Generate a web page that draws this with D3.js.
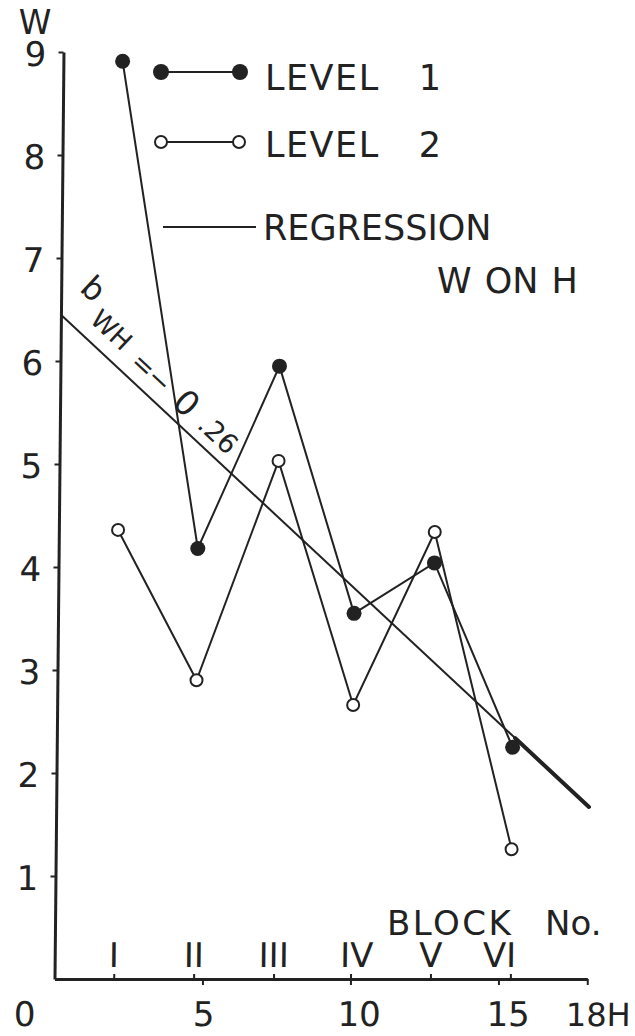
<!DOCTYPE html>
<html>
<head>
<meta charset="utf-8">
<script src="https://cdn.jsdelivr.net/npm/d3@7"></script>
<style>
  html, body { margin: 0; padding: 0; background: #fff; }
  svg { display: block; }
  text { font-family: "DejaVu Sans", sans-serif; fill: #222; }
</style>
</head>
<body>
<script>
// ---- data ----
const blockLabels = ["I", "II", "III", "IV", "V", "VI"];
const blockH = [2.0, 4.7, 7.4, 10.0, 12.7, 15.4];
const level1W = [8.91, 4.18, 5.95, 3.55, 4.04, 2.25];
const level2W = [4.36, 2.90, 5.03, 2.66, 4.34, 1.26];
const regressionH = [0, 18];
const regressionW = [6.45, 1.67];
const yTickValues = [1, 2, 3, 4, 5, 6, 7, 8, 9];
const xTickValues = [5, 10, 15, 18];
const xTickLabels = ["0", "5", "10", "15", "18H"];
const xTickLabelAt = [0, 5, 10, 15, 18];
const slopeLabel = ["b", "WH", "=", "\u2212", "0", ".26"];

// ---- layout ----
const width = 635, height = 1036;
const ink = "#222";
const svg = d3.select("body").append("svg").attr("width", width).attr("height", height);
svg.append("rect").attr("width", width).attr("height", height).attr("fill", "#fff");

const x = d3.scaleLinear().domain([0, 18]).range([0, 18 * 29.6]);
const y = d3.scaleLinear().domain([0, 9]).range([0, -927]);
const ox = 54.5, oy = 979;

const plot = svg.append("g").attr("transform", `translate(${ox},${oy}) skewX(-0.556)`);

// y axis
const yAxis = plot.append("g").call(d3.axisLeft(y).tickValues(yTickValues).tickSize(5).tickSizeOuter(0).tickFormat(""));
yAxis.select(".domain").attr("stroke", ink).attr("stroke-width", 3);
yAxis.selectAll(".tick line").attr("stroke", ink).attr("stroke-width", 2);

plot.selectAll(".ylab").data(yTickValues).enter().append("text")
  .attr("class", "ylab")
  .attr("x", -28).attr("y", d => y(d) + 14)
  .attr("text-anchor", "middle").attr("font-size", 34)
  .text(d => d);

// x axis
const xAxis = plot.append("g").call(d3.axisBottom(x).tickValues(xTickValues).tickSize(6).tickSizeOuter(0).tickFormat(""));
xAxis.select(".domain").attr("stroke", ink).attr("stroke-width", 3);
xAxis.selectAll(".tick line").attr("stroke", ink).attr("stroke-width", 2);
const bAxis = plot.append("g").call(d3.axisTop(x).tickValues(blockH).tickSize(5).tickSizeOuter(0).tickFormat(""));
bAxis.select(".domain").remove();
bAxis.selectAll(".tick line").attr("stroke", ink).attr("stroke-width", 2);

// x tick labels
const xLabelShift = [-29.5, 1.5, 9, 10, -21];
const xLabelAnchor = ["middle", "middle", "middle", "middle", "start"];
const xLabelSize = [34, 34, 34, 34, 32];
xTickLabels.forEach((t, i) => {
  plot.append("text")
    .attr("x", x(xTickLabelAt[i]) + xLabelShift[i]).attr("y", 47)
    .attr("text-anchor", xLabelAnchor[i]).attr("font-size", xLabelSize[i])
    .text(t);
});

// block labels
const blockShift = [0, 0, 0, 6, 0, -11];
blockLabels.forEach((t, i) => {
  plot.append("text")
    .attr("x", x(blockH[i]) + blockShift[i]).attr("y", -12)
    .attr("text-anchor", "middle").attr("font-size", 34)
    .text(t);
});
svg.append("text").attr("x", 387).attr("y", 935).attr("font-size", 34).attr("letter-spacing", 2.5).text("BLOCK");
svg.append("text").attr("x", 545).attr("y", 935).attr("font-size", 34).text("No.");

// y-axis title
svg.append("text").attr("x", 35).attr("y", 34).attr("text-anchor", "middle").attr("font-size", 33).text("W");

// regression line
const regLine = d3.line().x(d => x(d[0])).y(d => y(d[1]));
const regPts = regressionH.map((h, i) => [h, regressionW[i]]);
plot.append("path").attr("d", regLine(regPts)).attr("fill", "none").attr("stroke", ink).attr("stroke-width", 2);
const tailStart = [regressionH[0] + 0.86 * (regressionH[1] - regressionH[0]), regressionW[0] + 0.86 * (regressionW[1] - regressionW[0])];
plot.append("path").attr("d", regLine([tailStart, regPts[1]])).attr("fill", "none")
  .attr("stroke", ink).attr("stroke-width", 4).attr("stroke-linecap", "round");

// slope annotation
const ang = Math.atan2(y(regressionW[1]) - y(regressionW[0]), x(regressionH[1]) - x(regressionH[0])) * 180 / Math.PI;
const ann = plot.append("text")
  .attr("transform", `translate(${x(regressionH[0])},${y(regressionW[0])}) rotate(${ang})`);
const annX = [-4, 25, 84, 106, 142, 176];
const annY = [-30, -14, -10, -10, -9, -10];
const annSize = [32, 26, 27, 27, 34, 27];
slopeLabel.forEach((t, i) => {
  ann.append("tspan").attr("x", annX[i]).attr("y", annY[i]).attr("font-size", annSize[i]).text(t);
});

// data lines
const line = d3.line().x(d => x(d[0])).y(d => y(d[1]));
const l1 = blockH.map((h, i) => [h, level1W[i]]);
const l2 = blockH.map((h, i) => [h, level2W[i]]);
plot.append("path").attr("d", line(l2)).attr("fill", "none").attr("stroke", ink).attr("stroke-width", 2);
plot.append("path").attr("d", line(l1)).attr("fill", "none").attr("stroke", ink).attr("stroke-width", 2);

plot.selectAll(".p2").data(l2).enter().append("circle")
  .attr("cx", d => x(d[0])).attr("cy", d => y(d[1])).attr("r", 6)
  .attr("fill", "#fff").attr("stroke", ink).attr("stroke-width", 2);
plot.selectAll(".p1").data(l1).enter().append("circle")
  .attr("cx", d => x(d[0])).attr("cy", d => y(d[1])).attr("r", 7.5)
  .attr("fill", ink);

// legend
const lg = svg.append("g");
lg.append("line").attr("x1", 161).attr("x2", 240).attr("y1", 72).attr("y2", 72).attr("stroke", ink).attr("stroke-width", 1.8);
[161, 240].forEach(cx => lg.append("circle").attr("cx", cx).attr("cy", 72).attr("r", 8).attr("fill", ink));
lg.append("text").attr("x", 265).attr("y", 90).attr("font-size", 35).attr("letter-spacing", 1.5).text("LEVEL");
lg.append("text").attr("x", 430).attr("y", 90).attr("text-anchor", "middle").attr("font-size", 35).text("1");

lg.append("line").attr("x1", 161).attr("x2", 239).attr("y1", 142).attr("y2", 142).attr("stroke", ink).attr("stroke-width", 1.8);
[161, 239].forEach(cx => lg.append("circle").attr("cx", cx).attr("cy", 142).attr("r", 6).attr("fill", "#fff").attr("stroke", ink).attr("stroke-width", 2));
lg.append("text").attr("x", 265).attr("y", 157).attr("font-size", 35).attr("letter-spacing", 1.5).text("LEVEL");
lg.append("text").attr("x", 430).attr("y", 157).attr("text-anchor", "middle").attr("font-size", 35).text("2");

lg.append("line").attr("x1", 163).attr("x2", 256).attr("y1", 227).attr("y2", 227).attr("stroke", ink).attr("stroke-width", 2);
lg.append("text").attr("x", 263).attr("y", 240).attr("font-size", 35).text("REGRESSION");
lg.append("text").attr("x", 437).attr("y", 293).attr("font-size", 35).attr("word-spacing", 2).text("W ON H");
</script>
</body>
</html>
